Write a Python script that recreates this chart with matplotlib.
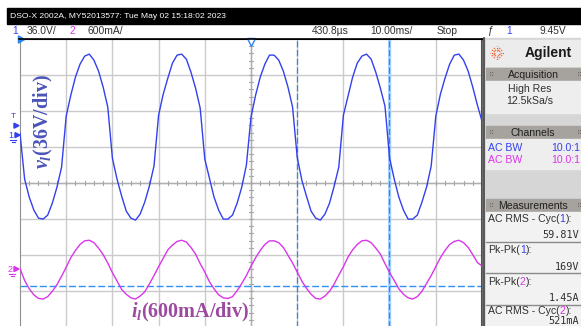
import numpy as np
import matplotlib.pyplot as plt
from matplotlib.patches import Rectangle, Polygon

W, H = 581, 326

# sample times in ms (0 = screen centre), one sample per ms
t_ms = np.arange(-50, 51)

# ch1 load voltage, V above its ground marker
v_load = [2, -44, -62, -75, -83, -84, -80, -68, -52, -32,
          19, 40, 58, 71, 79, 81, 75, 64, 48, 28,
          -23, -44, -61, -76, -83, -85, -79, -67, -51, -31,
          20, 41, 57, 72, 80, 81, 76, 63, 47, 27,
          -24, -43, -62, -75, -84, -84, -80, -68, -52, -30,
          18, 40, 58, 71, 80, 80, 75, 64, 48, 28,
          -22, -45, -61, -76, -83, -85, -79, -68, -51, -32,
          20, 39, 58, 72, 79, 81, 76, 63, 47, 29,
          -23, -44, -62, -75, -84, -84, -80, -67, -52, -31,
          19, 41, 57, 71, 80, 81, 75, 64, 48, 30,
          14]

# ch2 load current, A above its ground marker
i_load = [0.01, -0.19, -0.33, -0.43, -0.49, -0.50, -0.46, -0.37, -0.26, -0.12,
          0.03, 0.19, 0.31, 0.41, 0.47, 0.48, 0.44, 0.35, 0.24, 0.10,
          -0.06, -0.20, -0.34, -0.42, -0.48, -0.50, -0.45, -0.38, -0.25, -0.11,
          0.04, 0.18, 0.32, 0.40, 0.46, 0.48, 0.45, 0.36, 0.25, 0.09,
          -0.05, -0.21, -0.33, -0.43, -0.48, -0.49, -0.46, -0.36, -0.24, -0.11,
          0.05, 0.19, 0.31, 0.41, 0.47, 0.47, 0.44, 0.36, 0.23, 0.10,
          -0.05, -0.20, -0.32, -0.42, -0.49, -0.50, -0.45, -0.37, -0.25, -0.10,
          0.04, 0.20, 0.32, 0.41, 0.47, 0.48, 0.44, 0.35, 0.25, 0.09,
          -0.06, -0.19, -0.33, -0.42, -0.48, -0.50, -0.46, -0.37, -0.24, -0.11,
          0.04, 0.19, 0.31, 0.41, 0.46, 0.48, 0.44, 0.36, 0.24, 0.11,
          0.05]

ch1_scale, ch2_scale = 36.0, 0.6      # per division
ch1_gnd, ch2_gnd = 1.33, -2.39        # ground markers, div from centre
trig_level = 9.45
cursor_t = [10.0, 29.9]               # ms
cursor_i = -0.28                      # A (horizontal cursor)

BLUE = '#3340ee'
MAG = '#d935ea'
SANS = ['Liberation Sans', 'DejaVu Sans']

fig = plt.figure(figsize=(W / 100, H / 100), dpi=100)
fig.patch.set_facecolor('white')

# ---- scope graticule ----
ax = fig.add_axes([20 / W, 1 - 327 / H, 462 / W, 288 / H], zorder=1)
ax.set_xlim(-5, 5)
ax.set_ylim(-4, 4)
ax.set_xticks([])
ax.set_yticks([])
for k in range(-4, 5):
    ax.axvline(k, color='#cbcbcb', lw=1.0, zorder=1)
for k in range(-3, 4):
    ax.axhline(k, color='#cbcbcb', lw=1.0, zorder=1)
ax.axvline(0, color='#b0b0b0', lw=1.0, zorder=1)
ax.axhline(0, color='#b0b0b0', lw=1.0, zorder=1)
xt = np.arange(-5, 5.01, 0.2)
yt = np.arange(-4, 4.01, 0.2)
for x in xt:
    ax.plot([x, x], [-0.06, 0.06], color='#a8a8a8', lw=0.8, zorder=1)
for y in yt:
    ax.plot([-0.045, 0.045], [y, y], color='#a8a8a8', lw=0.8, zorder=1)
for s in ax.spines.values():
    s.set_color('#909090')
ax.spines['top'].set_color('black')
ax.spines['right'].set_color('#505050')
ax.spines['right'].set_linewidth(1.5)

# cursors
ax.axvline(cursor_t[1] / 10, color='#a9d2ff', lw=2.2, zorder=2)
for ct in cursor_t:
    ax.axvline(ct / 10, color='#2f86f0', lw=0.9, ls=(0, (5, 2)), zorder=2)
ax.axhline(cursor_i / ch2_scale + ch2_gnd, color='#2f8ff5', lw=1.0,
           ls=(0, (5, 2)), zorder=2)

# traces
ax.plot(t_ms / 10, np.array(v_load) / ch1_scale + ch1_gnd,
        color=BLUE, lw=1.0, zorder=3)
ax.plot(t_ms / 10, np.array(i_load) / ch2_scale + ch2_gnd,
        color=MAG, lw=1.0, zorder=3)

# trigger marker at top
ax.plot([0], [3.93], marker='v', ms=6, mfc='white', mec='#2f86f0',
        mew=1.0, clip_on=False, zorder=4)
ax.plot([-5], [4], marker=(3, 0, 150), ms=6, color='#2f86f0',
        clip_on=False, zorder=4)

# ---- overlay for screen furniture ----
ov = fig.add_axes([0, 0, 1, 1], zorder=5)
ov.set_xlim(0, W)
ov.set_ylim(H, 0)
ov.axis('off')
ov.patch.set_visible(False)

# title bar
ov.add_patch(Rectangle((7, 8), W - 7, 16, color='black'))
ov.text(10, 16.3, 'DSO-X 2002A, MY52013577: Tue May 02 15:18:02 2023',
        color='white', fontsize=6.1, va='center', family=SANS)
ov.plot([19, 482], [38.5, 38.5], color='black', lw=1.2)

# channel / timebase row
row_y = 31.5
row = [(12, '1', BLUE), (27, '36.0V/', '#303030'), (70, '2', MAG),
       (88, '600mA/', '#303030'), (312, '430.8µs', '#303030'),
       (370, '10.00ms/', '#303030'), (437, 'Stop', '#303030'),
       (487, 'ƒ', '#303030'), (506, '1', BLUE),
       (540, f'{trig_level:.2f}V', '#303030')]
for x, s, c in row:
    ov.text(x, row_y, s, color=c, fontsize=7.4, va='center', family=SANS)

# left-side markers
g1 = 183 - 36 * ch1_gnd
g2 = 183 - 36 * ch2_gnd
gt = g1 - trig_level
ov.text(13, gt - 9, 'T', color=BLUE, fontsize=6, va='center', ha='center', family=SANS)
ov.add_patch(Polygon([[14, gt - 2.5], [19, gt], [14, gt + 2.5]], color=BLUE))
ov.text(11, g1, '1', color=BLUE, fontsize=6.5, va='center', ha='center', family=SANS)
ov.add_patch(Polygon([[15, g1 - 2.5], [20, g1], [15, g1 + 2.5]], color=BLUE))
ov.plot([10, 16], [g1 + 5, g1 + 5], color=BLUE, lw=0.8)
ov.plot([11.5, 14.5], [g1 + 7, g1 + 7], color=BLUE, lw=0.8)
ov.text(10, g2, '2', color=MAG, fontsize=6.5, va='center', ha='center', family=SANS)
ov.add_patch(Polygon([[14, g2 - 2.5], [19, g2], [14, g2 + 2.5]], color=MAG))
ov.plot([9, 15], [g2 + 5, g2 + 5], color=MAG, lw=0.8)
ov.plot([10.5, 13.5], [g2 + 7, g2 + 7], color=MAG, lw=0.8)

# annotations
plt.rcParams['mathtext.fontset'] = 'custom'
plt.rcParams['mathtext.it'] = 'Liberation Serif:italic:bold'
plt.rcParams['mathtext.rm'] = 'Liberation Serif:bold'
ov.text(43, 122, r'$v_l$(36V/div)', rotation=90, color='#4b55b8',
        fontsize=14.5, fontweight='bold', family='Liberation Serif',
        ha='center', va='center')
ov.text(190, 312, r'$i_l$(600mA/div)', color='#9c4aa0',
        fontsize=14.5, fontweight='bold', family='Liberation Serif',
        ha='center', va='center')

# ---- right-hand panel ----
ov.add_patch(Rectangle((483, 38), W - 483, H - 38, color='#d6d6d6'))
ov.plot([483.5, 483.5], [38, H], color='#404040', lw=1.2)


def header(y, label):
    ov.add_patch(Rectangle((486, y), W - 486, 13, color='#a6a29e'))
    ov.text(533, y + 6.8, label, color='#202020', fontsize=7.6,
            ha='center', va='center', family=SANS)
    ov.text(489, y + 6.8, '⠿', color='#6f6c69', fontsize=5, va='center')
    ov.text(577, y + 6.8, '⠿', color='#6f6c69', fontsize=5, va='center')


# Agilent box
ov.add_patch(Rectangle((486, 40), W - 486, 26, color='#ececec'))
cx, cy = 497, 53
for a in np.linspace(0, 2 * np.pi, 12, endpoint=False):
    ov.plot([cx + 2.5 * np.cos(a), cx + 7 * np.cos(a)],
            [cy + 2.5 * np.sin(a), cy + 7 * np.sin(a)],
            color='#f0622e', lw=0.9, ls=(0, (1, 0.8)))
ov.text(525, 53.5, 'Agilent', color='#1a1a1a', fontsize=10,
        fontweight='bold', va='center', family=SANS)

header(68, 'Acquisition')
ov.add_patch(Rectangle((486, 81), W - 486, 32, color='#eeeeee'))
ov.text(530, 89, 'High Res', color='#303030', fontsize=7.6, ha='center',
        va='center', family=SANS)
ov.text(530, 101, '12.5kSa/s', color='#303030', fontsize=7.6, ha='center',
        va='center', family=SANS)

header(126, 'Channels')
ov.add_patch(Rectangle((486, 139), W - 486, 30, color='#eeeeee'))
ov.text(488, 148, 'AC BW', color=BLUE, fontsize=7.6, va='center', family=SANS)
ov.text(580, 148, '10.0:1', color=BLUE, fontsize=7.6, va='center',
        ha='right', family=SANS)
ov.text(488, 160, 'AC BW', color=MAG, fontsize=7.6, va='center', family=SANS)
ov.text(580, 160, '10.0:1', color=MAG, fontsize=7.6, va='center',
        ha='right', family=SANS)

header(199, 'Measurements')
ov.add_patch(Rectangle((486, 212), W - 486, H - 212, color='#f2f2f2'))
meas = [('AC RMS - Cyc(', '1', '):', '59.81V', BLUE),
        ('Pk-Pk(', '1', '):', '169V', BLUE),
        ('Pk-Pk(', '2', '):', '1.45A', MAG),
        ('AC RMS - Cyc(', '2', '):', '521mA', MAG)]
for n, (pre, ch, post, val, col) in enumerate(meas):
    y0 = 219 + 31.3 * n if n < 3 else 311.5
    t1 = ov.text(488, y0, pre, color='#303030', fontsize=7.6, va='center',
                 family=SANS)
    t2 = ov.annotate(ch, xycoords=t1, xy=(1, 0.5), va='center',
                     color=col, fontsize=7.6, family=SANS)
    ov.annotate(post, xycoords=t2, xy=(1, 0.5), va='center',
                color='#303030', fontsize=7.6, family=SANS)
    vy = y0 + 16.5 if n < 3 else 321.5
    ov.text(579, vy, val, color='#303030', fontsize=7.3, va='center',
            ha='right', family='DejaVu Sans Mono')
    if n < 3:
        ov.plot([486, 580], [y0 + 23, y0 + 23], color='#8a8a8a', lw=1.0)

fig.savefig('out.png', dpi=100)
